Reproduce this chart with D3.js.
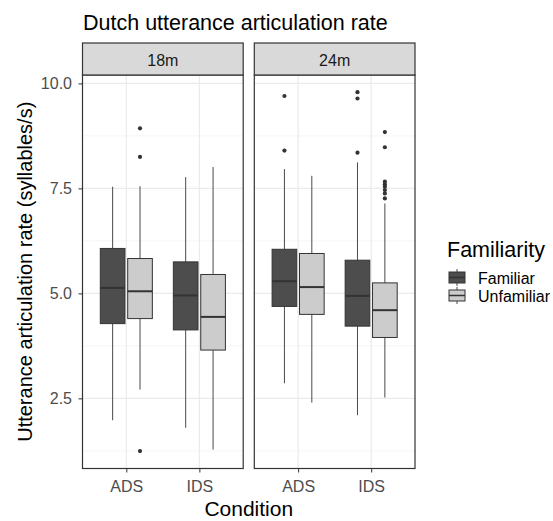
<!DOCTYPE html>
<html>
<head>
<meta charset="utf-8">
<script src="https://cdn.jsdelivr.net/npm/d3@7"></script>
<style>
  body { margin: 0; background: #fff; }
  text { font-family: "Liberation Sans", Arial, sans-serif; }
</style>
</head>
<body>
<div id="chart"></div>
<script>
// data
var ages = ["18m", "24m"];
var conditions = ["ADS", "IDS"];
var familiarity = ["Familiar", "Unfamiliar"];
var yTicks = [2.5, 5.0, 7.5, 10.0];
var yMinor = [1.25, 3.75, 6.25, 8.75];

// box stats: [lower whisker, q1, median, q3, upper whisker]
var stats18 = [
  [1.98, 4.28, 5.13, 6.07, 7.54],   // ADS Familiar
  [2.71, 4.40, 5.05, 5.83, 7.55],   // ADS Unfamiliar
  [1.80, 4.13, 4.95, 5.75, 7.77],   // IDS Familiar
  [1.28, 3.65, 4.44, 5.45, 8.01]    // IDS Unfamiliar
];
var stats24 = [
  [2.86, 4.69, 5.29, 6.05, 7.96],
  [2.40, 4.50, 5.15, 5.95, 7.80],
  [2.10, 4.22, 4.94, 5.79, 8.12],
  [2.52, 3.95, 4.60, 5.25, 7.14]
];
var outliers18 = [[], [8.93, 8.25, 1.245], [], []];
var outliers24 = [[9.70, 8.40], [], [9.79, 9.64, 8.35], [8.84, 8.48, 7.66, 7.60, 7.54, 7.46, 7.38, 7.26]];

var fills = ["#4d4d4d", "#cccccc"];

var width = 553, height = 521;
var svg = d3.select("#chart").append("svg")
            .attr("width", width).attr("height", height);

var plotTop = 75, plotBottom = 468.5;
var panelX = [82.5, 254.3];
var panelW = 160.7;
var stripTop = 43;

var yScale = d3.scaleLinear().domain([0.83, 10.2]).range([plotBottom, plotTop]);

var panels = [
  {age: ages[0], stats: stats18, out: outliers18},
  {age: ages[1], stats: stats24, out: outliers24}
];

panels.forEach(function(p, pi) {
  var x0 = panelX[pi];
  // discrete scale with 0.6 expansion on each side
  var xScale = d3.scaleLinear().domain([0.4, 2.6]).range([x0, x0 + panelW]);
  var unit = panelW / 2.2;

  var g = svg.append("g");

  // grid
  g.selectAll(".minor").data(yMinor).enter().append("line")
    .attr("x1", x0).attr("x2", x0 + panelW)
    .attr("y1", function(d) { return yScale(d); }).attr("y2", function(d) { return yScale(d); })
    .attr("stroke", "#f2f2f2").attr("stroke-width", 0.8);
  g.selectAll(".major").data(yTicks).enter().append("line")
    .attr("x1", x0).attr("x2", x0 + panelW)
    .attr("y1", function(d) { return yScale(d); }).attr("y2", function(d) { return yScale(d); })
    .attr("stroke", "#ebebeb").attr("stroke-width", 1.2);
  g.selectAll(".vmajor").data(conditions).enter().append("line")
    .attr("x1", function(d, i) { return xScale(i + 1); }).attr("x2", function(d, i) { return xScale(i + 1); })
    .attr("y1", plotTop).attr("y2", plotBottom)
    .attr("stroke", "#ebebeb").attr("stroke-width", 1.2);

  // boxes
  p.stats.forEach(function(s, k) {
    var ci = Math.floor(k / 2), fi = k % 2;
    var cx = xScale(ci + 1) + (fi === 0 ? -0.1875 : 0.1875) * unit;
    var bw = 0.3375 * unit;
    var bg = g.append("g");
    bg.append("line").attr("x1", cx).attr("x2", cx)
      .attr("y1", yScale(s[4])).attr("y2", yScale(s[3]))
      .attr("stroke", "#4a4a4a").attr("stroke-width", 1);
    bg.append("line").attr("x1", cx).attr("x2", cx)
      .attr("y1", yScale(s[1])).attr("y2", yScale(s[0]))
      .attr("stroke", "#4a4a4a").attr("stroke-width", 1);
    bg.append("rect").attr("x", cx - bw / 2).attr("width", bw)
      .attr("y", yScale(s[3])).attr("height", yScale(s[1]) - yScale(s[3]))
      .attr("fill", fills[fi]).attr("stroke", "#333").attr("stroke-width", 1);
    bg.append("line").attr("x1", cx - bw / 2).attr("x2", cx + bw / 2)
      .attr("y1", yScale(s[2])).attr("y2", yScale(s[2]))
      .attr("stroke", "#333").attr("stroke-width", 2);
    bg.selectAll("circle").data(p.out[k]).enter().append("circle")
      .attr("cx", cx).attr("cy", function(d) { return yScale(d); })
      .attr("r", 2.1).attr("fill", "#333");
  });

  // panel border
  g.append("rect").attr("x", x0).attr("y", plotTop).attr("width", panelW).attr("height", plotBottom - plotTop)
    .attr("fill", "none").attr("stroke", "#333").attr("stroke-width", 1.2);

  // strip
  g.append("rect").attr("x", x0).attr("y", stripTop).attr("width", panelW).attr("height", plotTop - stripTop)
    .attr("fill", "#d9d9d9").attr("stroke", "#333").attr("stroke-width", 1.2);
  g.append("text").attr("x", x0 + panelW / 2).attr("y", 65.5)
    .attr("text-anchor", "middle").attr("font-size", 16).attr("fill", "#1a1a1a").text(p.age);

  // x axis
  var xAxis = d3.axisBottom(xScale).tickValues([1, 2])
    .tickFormat(function(d) { return conditions[d - 1]; }).tickSize(4).tickPadding(8);
  var ax = g.append("g").attr("transform", "translate(0," + plotBottom + ")").call(xAxis);
  ax.select(".domain").remove();
  ax.selectAll("line").attr("stroke", "#333");
  ax.selectAll("text").attr("font-size", 16).attr("fill", "#4d4d4d")
    .style("font-family", "Liberation Sans, Arial, sans-serif");
});

// y axis
var yAxis = d3.axisLeft(yScale).tickValues(yTicks).tickFormat(d3.format(".1f")).tickSize(4).tickPadding(6.5);
var ay = svg.append("g").attr("transform", "translate(" + panelX[0] + ",0)").call(yAxis);
ay.select(".domain").remove();
ay.selectAll("line").attr("stroke", "#333");
ay.selectAll("text").attr("font-size", 16).attr("fill", "#4d4d4d")
  .style("font-family", "Liberation Sans, Arial, sans-serif");

// titles
svg.append("text").attr("x", 83).attr("y", 29.5).attr("font-size", 21.5).attr("fill", "#000")
  .text("Dutch utterance articulation rate");
svg.append("text").attr("x", (panelX[0] + panelX[1] + panelW) / 2).attr("y", 516)
  .attr("text-anchor", "middle").attr("font-size", 21).attr("fill", "#000").text("Condition");
svg.append("text").attr("transform", "translate(32," + ((plotTop + plotBottom) / 2) + ") rotate(-90)")
  .attr("text-anchor", "middle").attr("font-size", 20).attr("fill", "#000")
  .text("Utterance articulation rate (syllables/s)");

// legend
var lg = svg.append("g").attr("transform", "translate(447,0)");
lg.append("text").attr("x", 0).attr("y", 256.5).attr("font-size", 21.5).attr("fill", "#000").text("Familiarity");
familiarity.forEach(function(f, i) {
  var ky = 269 + i * 18;
  var kx = 2, kw = 16;
  lg.append("line").attr("x1", kx + kw / 2).attr("x2", kx + kw / 2).attr("y1", ky).attr("y2", ky + 17)
    .attr("stroke", "#4a4a4a").attr("stroke-width", 1);
  lg.append("rect").attr("x", kx).attr("y", ky + 3).attr("width", kw).attr("height", 11)
    .attr("fill", fills[i]).attr("stroke", "#333").attr("stroke-width", 1);
  lg.append("line").attr("x1", kx).attr("x2", kx + kw).attr("y1", ky + 8.5).attr("y2", ky + 8.5)
    .attr("stroke", "#333").attr("stroke-width", 1.5);
  lg.append("text").attr("x", 31).attr("y", ky + 15).attr("font-size", 16).attr("fill", "#000").text(f);
});
</script>
</body>
</html>
